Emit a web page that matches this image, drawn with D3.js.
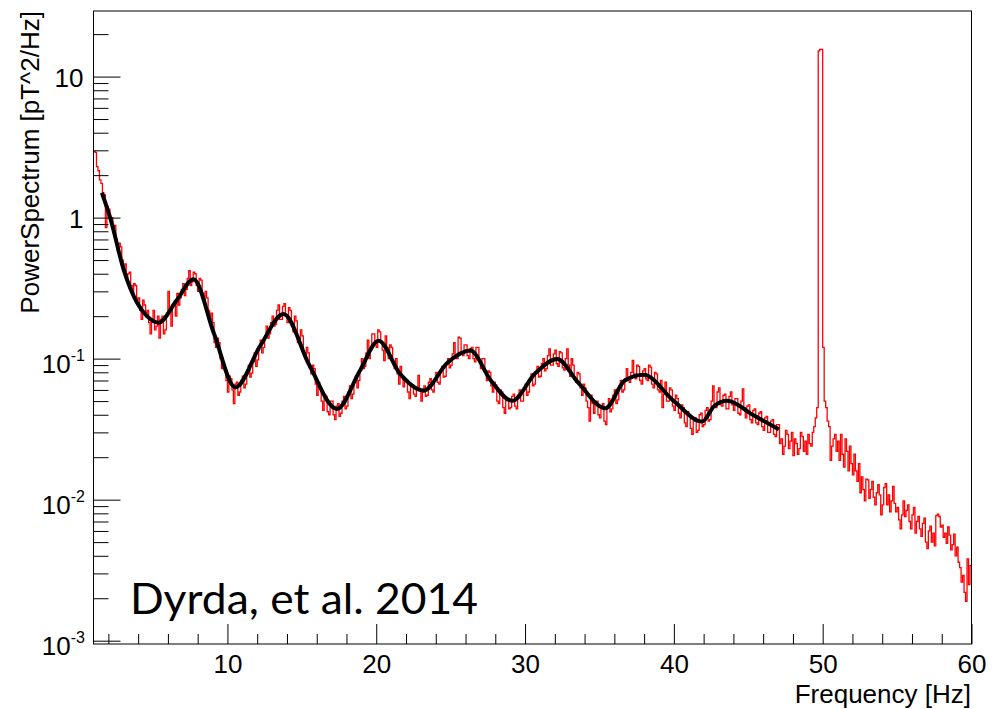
<!DOCTYPE html>
<html>
<head>
<meta charset="utf-8">
<script src="https://cdn.jsdelivr.net/npm/d3@7"></script>
<style>
    body { margin: 0; background: #fff; }
    text { font-family: "Liberation Sans", Arial, Helvetica, sans-serif; }
</style>
</head>
<body>
<svg id="viz" width="1000" height="709"></svg>
<script>
// histogram bins: lower edge = binStart + i * binWidth
const binStart = 1.0
const binWidth = 0.1

// power spectrum per bin [pT^2/Hz] (one row = 2 Hz)
const spectrum = [
    2.95, 2.9, 2.3, 2.15, 1.85, 1.75, 1.5, 1.45, 0.85, 1.2, 1.15, 0.95, 1.0, 0.82, 0.88, 0.7, 0.58, 0.66, 0.62, 0.5,
    0.42, 0.47, 0.36, 0.4, 0.41, 0.33, 0.29, 0.34, 0.33, 0.26, 0.27, 0.22, 0.19, 0.26, 0.24, 0.21, 0.22, 0.18, 0.15, 0.19,
    0.22, 0.16, 0.17, 0.2, 0.14, 0.19, 0.2, 0.15, 0.16, 0.21, 0.3, 0.22, 0.17, 0.24, 0.25, 0.2, 0.29, 0.24, 0.27, 0.31,
    0.34, 0.28, 0.31, 0.37, 0.42, 0.33, 0.35, 0.41, 0.4, 0.33, 0.3, 0.37, 0.36, 0.29, 0.26, 0.3, 0.27, 0.22, 0.19, 0.21,
    0.18, 0.13, 0.12, 0.14, 0.13, 0.1, 0.085, 0.095, 0.082, 0.07, 0.058, 0.075, 0.072, 0.06, 0.048, 0.066, 0.068, 0.055, 0.058, 0.07,
    0.075, 0.062, 0.066, 0.078, 0.09, 0.074, 0.079, 0.095, 0.11, 0.088, 0.098, 0.12, 0.135, 0.11, 0.12, 0.145, 0.17, 0.14, 0.15, 0.18,
    0.2, 0.17, 0.175, 0.22, 0.24, 0.19, 0.19, 0.235, 0.245, 0.2, 0.18, 0.23, 0.22, 0.17, 0.155, 0.2, 0.185, 0.13, 0.13, 0.16,
    0.145, 0.11, 0.1, 0.12, 0.11, 0.085, 0.078, 0.09, 0.085, 0.066, 0.055, 0.068, 0.062, 0.05, 0.043, 0.055, 0.054, 0.042, 0.04, 0.05,
    0.05, 0.04, 0.037, 0.046, 0.048, 0.039, 0.041, 0.05, 0.054, 0.044, 0.046, 0.058, 0.064, 0.052, 0.056, 0.07, 0.075, 0.062, 0.07, 0.085,
    0.1, 0.085, 0.088, 0.11, 0.135, 0.1, 0.115, 0.15, 0.15, 0.125, 0.12, 0.16, 0.155, 0.13, 0.115, 0.097, 0.145, 0.12, 0.1, 0.125,
    0.12, 0.095, 0.085, 0.1, 0.078, 0.066, 0.088, 0.075, 0.063, 0.072, 0.071, 0.058, 0.052, 0.066, 0.065, 0.056, 0.054, 0.062, 0.076, 0.06,
    0.05, 0.058, 0.064, 0.054, 0.055, 0.068, 0.072, 0.06, 0.058, 0.07, 0.08, 0.068, 0.066, 0.082, 0.088, 0.074, 0.075, 0.092, 0.1, 0.086,
    0.09, 0.108, 0.13, 0.1, 0.1, 0.142, 0.14, 0.11, 0.105, 0.125, 0.125, 0.105, 0.1, 0.118, 0.12, 0.1, 0.095, 0.12, 0.12, 0.095,
    0.085, 0.1, 0.1, 0.08, 0.07, 0.082, 0.08, 0.064, 0.058, 0.068, 0.065, 0.05, 0.048, 0.06, 0.058, 0.045, 0.041, 0.052, 0.052, 0.044,
    0.045, 0.054, 0.056, 0.046, 0.044, 0.055, 0.06, 0.05, 0.05, 0.062, 0.066, 0.055, 0.058, 0.072, 0.078, 0.064, 0.066, 0.08, 0.088, 0.074,
    0.075, 0.092, 0.1, 0.082, 0.085, 0.105, 0.117, 0.09, 0.09, 0.108, 0.115, 0.092, 0.088, 0.112, 0.11, 0.086, 0.083, 0.1, 0.117, 0.09,
    0.075, 0.1, 0.09, 0.072, 0.068, 0.08, 0.078, 0.062, 0.055, 0.066, 0.062, 0.05, 0.045, 0.036, 0.055, 0.048, 0.041, 0.05, 0.05, 0.04,
    0.038, 0.046, 0.048, 0.036, 0.034, 0.045, 0.052, 0.042, 0.044, 0.055, 0.06, 0.048, 0.051, 0.064, 0.07, 0.058, 0.06, 0.072, 0.085, 0.07,
    0.068, 0.08, 0.097, 0.078, 0.072, 0.09, 0.088, 0.07, 0.066, 0.082, 0.085, 0.072, 0.07, 0.09, 0.087, 0.066, 0.062, 0.08, 0.078, 0.06,
    0.058, 0.07, 0.045, 0.056, 0.068, 0.05, 0.05, 0.062, 0.06, 0.046, 0.043, 0.055, 0.052, 0.041, 0.038, 0.047, 0.045, 0.035, 0.033, 0.042,
    0.04, 0.032, 0.029, 0.036, 0.038, 0.03, 0.031, 0.04, 0.041, 0.033, 0.034, 0.043, 0.045, 0.036, 0.037, 0.05, 0.064, 0.046, 0.045, 0.058,
    0.062, 0.047, 0.046, 0.055, 0.056, 0.044, 0.044, 0.054, 0.058, 0.047, 0.043, 0.052, 0.052, 0.041, 0.04, 0.05, 0.061, 0.045, 0.038, 0.046,
    0.047, 0.037, 0.035, 0.043, 0.044, 0.035, 0.034, 0.041, 0.042, 0.033, 0.031, 0.038, 0.039, 0.03, 0.03, 0.036, 0.037, 0.029, 0.028, 0.034,
    0.034, 0.025, 0.027, 0.021, 0.024, 0.031, 0.029, 0.023, 0.026, 0.03, 0.0205, 0.027, 0.025, 0.021, 0.023, 0.03, 0.028, 0.022, 0.026, 0.021,
    0.029, 0.025, 0.024, 0.03, 0.033, 0.038, 0.045, 15.2, 15.6, 15.6, 0.12, 0.05, 0.045, 0.036, 0.033, 0.019, 0.024, 0.027, 0.029, 0.022,
    0.026, 0.019, 0.029, 0.021, 0.017, 0.027, 0.022, 0.016, 0.024, 0.018, 0.015, 0.021, 0.016, 0.0135, 0.018, 0.0112, 0.0145, 0.0118, 0.0098, 0.014,
    0.0138, 0.0102, 0.0118, 0.0135, 0.0104, 0.0092, 0.0112, 0.0128, 0.0108, 0.0078, 0.0092, 0.0122, 0.013, 0.0092, 0.0108, 0.0082, 0.0098, 0.0124, 0.0094, 0.0082,
    0.0088, 0.0072, 0.0062, 0.0078, 0.0098, 0.0076, 0.0084, 0.0092, 0.007, 0.0062, 0.0078, 0.0088, 0.0058, 0.007, 0.0076, 0.0062, 0.0055, 0.0068, 0.0074, 0.005,
    0.0045, 0.006, 0.0065, 0.005, 0.0058, 0.0047, 0.0077, 0.0079, 0.0076, 0.0064, 0.0066, 0.0054, 0.0058, 0.0049, 0.0064, 0.0056, 0.0044, 0.0048, 0.0057, 0.004,
    0.0046, 0.0036, 0.0033, 0.0026, 0.0029, 0.0022, 0.0019, 0.0038, 0.0025, 0.0034
]

// fitted curve, [frequency, value]
const fitCurve = [
    [1.56, 1.5], [2.12, 1.0], [3.02, 0.43], [3.92, 0.25], [4.59, 0.2], [5.37, 0.18],
    [6.6, 0.26], [7.72, 0.366], [9.1, 0.15], [10.53, 0.0626], [12.2, 0.123],
    [13.77, 0.207], [15.5, 0.09], [17.36, 0.044], [18.9, 0.082], [20.16, 0.134],
    [21.6, 0.078], [23.18, 0.0594], [24.8, 0.094], [26.32, 0.114], [27.7, 0.07],
    [29.13, 0.0502], [30.7, 0.079], [32.15, 0.0995], [33.6, 0.067], [35.4, 0.0445],
    [36.7, 0.07], [37.97, 0.0769], [40.0, 0.05], [41.9, 0.0358], [42.7, 0.046],
    [43.58, 0.0503], [45.3, 0.04], [47.05, 0.0315]
]

const xMajor = [10, 20, 30, 40, 50, 60]
const xMinor = [2, 4, 6, 8, 12, 14, 16, 18, 22, 24, 26, 28, 32, 34, 36, 38, 42, 44, 46, 48, 52, 54, 56, 58]
const yMajor = [1e-3, 1e-2, 1e-1, 1, 10]
const xTitle = "Frequency [Hz]"
const yTitle = "PowerSpectrum [pT^2/Hz]"
const note = "Dyrda, et al. 2014"

const svg = d3.select("#viz")
const pLeft = 93.5, pRight = 971.5, pTop = 11, pBottom = 644

const x = d3.scaleLinear().domain([1, 60]).range([pLeft, pRight])
const y = d3.scaleLog().domain([Math.pow(10, -3.0234), Math.pow(10, 1.465)]).range([pBottom, pTop])

// minor y ticks: 2..9 in every decade inside the domain
let yMinor = []
for (let e = -3; e <= 1; e++) {
    for (let k = 2; k <= 9; k++) {
        const v = k * Math.pow(10, e)
        if (v < y.domain()[1]) yMinor.push(v)
    }
}

svg.append("defs").append("clipPath").attr("id", "plot")
    .append("rect").attr("x", pLeft).attr("y", pTop).attr("width", pRight - pLeft).attr("height", pBottom - pTop)

// red histogram
const bins = spectrum.map((v, i) => [binStart + i * binWidth, v])
bins.push([60, spectrum[spectrum.length - 1]])
const step = d3.line().x(d => x(d[0])).y(d => y(d[1])).curve(d3.curveStepAfter)
svg.append("path")
    .datum(bins)
    .attr("clip-path", "url(#plot)")
    .attr("d", step)
    .attr("fill", "none")
    .attr("stroke", "#ff0000")
    .attr("stroke-width", 1.3)

// black fit
const fit = d3.line().x(d => x(d[0])).y(d => y(d[1])).curve(d3.curveMonotoneX)
svg.append("path")
    .datum(fitCurve)
    .attr("d", fit)
    .attr("fill", "none")
    .attr("stroke", "#000")
    .attr("stroke-width", 4)

// axes
const xAxisMinor = svg.append("g").attr("transform", `translate(0,${pBottom})`)
    .call(d3.axisBottom(x).tickValues(xMinor).tickSize(-10).tickFormat(""))
const xAxis = svg.append("g").attr("transform", `translate(0,${pBottom})`)
    .call(d3.axisBottom(x).tickValues(xMajor).tickSize(-20).tickPadding(10.5).tickFormat(d3.format("d")))
const yAxisMinor = svg.append("g").attr("transform", `translate(${pLeft},0)`)
    .call(d3.axisLeft(y).tickValues(yMinor).tickSize(-15).tickFormat(""))
const yAxis = svg.append("g").attr("transform", `translate(${pLeft},0)`)
    .call(d3.axisLeft(y).tickValues(yMajor).tickSize(-27).tickPadding(10).tickFormat(""))

svg.selectAll(".domain").remove()
svg.selectAll(".tick line").attr("stroke", "#000")
svg.selectAll(".tick text").attr("fill", "#000").attr("font-size", 26)
    .attr("font-family", '"Liberation Sans", Arial, sans-serif')

yAxis.selectAll(".tick text").each(function (d) {
    const t = d3.select(this)
    const e = Math.round(Math.log10(d))
    if (e === 0) {
        t.attr("dy", 10).text("1")
    } else if (e === 1) {
        t.attr("dy", 10).text("10")
    } else {
        t.attr("dy", 13.5).attr("x", -8.5)
        t.append("tspan").text("10")
        t.append("tspan").attr("font-size", 16).attr("dy", -12).text(e)
    }
})

// frame
svg.append("rect")
    .attr("x", pLeft).attr("y", pTop)
    .attr("width", pRight - pLeft).attr("height", pBottom - pTop)
    .attr("fill", "none").attr("stroke", "#000").attr("stroke-width", 1)

// titles
svg.append("text")
    .attr("x", 971).attr("y", 703)
    .attr("text-anchor", "end")
    .attr("font-size", 26)
    .text(xTitle)

svg.append("text")
    .attr("transform", `translate(38.5,${pTop}) rotate(-90)`)
    .attr("text-anchor", "end")
    .attr("font-size", 26)
    .text(yTitle)

svg.append("text")
    .attr("x", 130).attr("y", 613.5)
    .attr("font-size", 42)
    .style("font-family", 'Lato, "Open Sans", sans-serif')
    .attr("textLength", 348)
    .attr("lengthAdjust", "spacingAndGlyphs")
    .text(note)
</script>
</body>
</html>
